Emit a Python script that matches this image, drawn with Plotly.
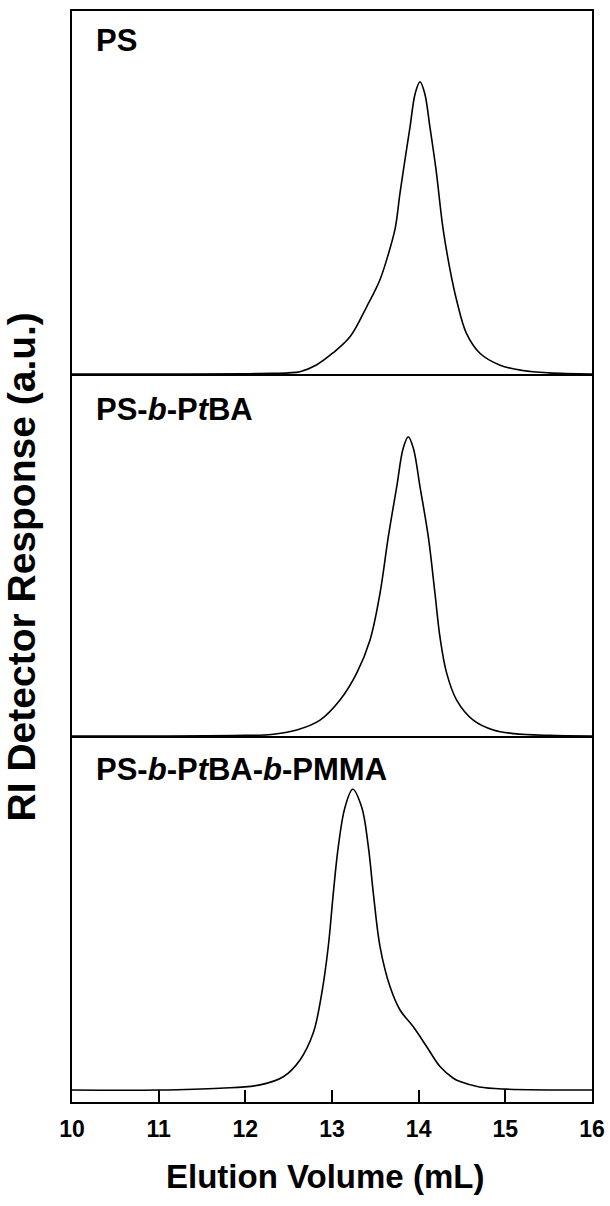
import plotly.graph_objects as go
from plotly.subplots import make_subplots

# GPC traces: elution volume (mL) vs normalised RI response
ps_x = [10.0, 11.0, 12.0, 12.3, 12.5, 12.63, 12.82, 13.01, 13.21, 13.40, 13.55, 13.65,
        13.73, 13.785, 13.90, 13.96, 14.015, 14.07, 14.13, 14.20, 14.28, 14.36, 14.44,
        14.55, 14.71, 14.94, 15.2, 15.5, 16.0]
ps_y = [0.0, 0.0, 0.001, 0.002, 0.004, 0.008, 0.031, 0.072, 0.128, 0.23, 0.32, 0.41,
        0.50, 0.62, 0.845, 0.96, 1.0, 0.96, 0.845, 0.70, 0.50, 0.36, 0.25,
        0.14, 0.07, 0.03, 0.012, 0.004, 0.0]

diblock_x = [10.0, 11.0, 12.0, 12.3, 12.593, 12.862, 13.092, 13.285, 13.438, 13.554,
             13.650, 13.747, 13.82, 13.88, 13.94, 14.015, 14.111, 14.188, 14.246,
             14.323, 14.438, 14.63, 14.861, 15.1, 15.5, 16.0]
diblock_y = [0.0, 0.0, 0.002, 0.005, 0.02, 0.053, 0.12, 0.21, 0.32, 0.477,
             0.666, 0.833, 0.96, 1.0, 0.96, 0.833, 0.666, 0.477, 0.33,
             0.21, 0.12, 0.053, 0.02, 0.008, 0.002, 0.0]

triblock_x = [10.0, 11.0, 11.708, 12.169, 12.438, 12.631, 12.784, 12.881, 12.957,
              13.015, 13.073, 13.15, 13.239, 13.343, 13.419, 13.477, 13.554, 13.669,
              13.785, 13.938, 14.093, 14.246, 14.40, 14.477, 14.7, 15.0, 16.0]
triblock_y = [0.0, 0.0, 0.006, 0.017, 0.044, 0.10, 0.19, 0.32, 0.477,
              0.654, 0.81, 0.94, 1.0, 0.94, 0.81, 0.654, 0.477, 0.344,
              0.266, 0.21, 0.144, 0.078, 0.039, 0.028, 0.01, 0.003, 0.0]

sample_labels = ["<b>PS</b>",
                 "<b>PS-<i>b</i>-P<i>t</i>BA</b>",
                 "<b>PS-<i>b</i>-P<i>t</i>BA-<i>b</i>-PMMA</b>"]
x_ticks = [10, 11, 12, 13, 14, 15, 16]

FONT = "Liberation Sans, Arial, sans-serif"

fig = make_subplots(rows=3, cols=1, shared_xaxes=True, vertical_spacing=0,
                    row_heights=[363, 362, 366])
fig.update_layout(template="none")

series = [(ps_x, ps_y), (diblock_x, diblock_y), (triblock_x, triblock_y)]
for i, (xs, ys) in enumerate(series, start=1):
    fig.add_trace(go.Scatter(x=xs, y=ys, mode="lines", line_shape="spline",
                             line=dict(color="black", width=1.6),
                             showlegend=False, hoverinfo="skip"), row=i, col=1)

y_ranges = [[0, 1.242], [0, 1.2095], [-0.0399, 1.177]]
for i, rng in enumerate(y_ranges, start=1):
    fig.update_yaxes(range=rng, showline=True, mirror=True, linecolor="black",
                     linewidth=1.5, showgrid=False, zeroline=False,
                     showticklabels=False, ticks="", row=i, col=1)

# top panel carries the upper frame edge; each panel's bottom line is the divider
for i in (1, 2, 3):
    fig.update_xaxes(range=[10, 16], showline=True, linecolor="black", linewidth=1.5,
                     showgrid=False, zeroline=False, mirror=(i == 1),
                     row=i, col=1)
for i in (1, 2):
    fig.update_xaxes(ticks="", showticklabels=False, row=i, col=1)
fig.update_xaxes(ticks="inside", ticklen=12, tickwidth=1.5, tickcolor="black",
                 tickmode="array", tickvals=x_ticks,
                 ticktext=[str(t) for t in x_ticks], showticklabels=True,
                 ticklabelstandoff=6,
                 tickfont=dict(family=FONT, size=23, color="black", weight="bold"),
                 row=3, col=1)

# panel labels
label_y = [1.0 - 30 / 363, 1.0 - 35 / 362, 1.0 - 33 / 366]
for i, (txt, yy) in enumerate(zip(sample_labels, label_y), start=1):
    yref = "y domain" if i == 1 else f"y{i} domain"
    xref = "x domain" if i == 1 else f"x{i} domain"
    fig.add_annotation(text=txt, xref=xref, yref=yref, x=22 / 520, y=yy,
                       xanchor="left", yanchor="middle", showarrow=False,
                       font=dict(family=FONT, size=31, color="black"))

fig.add_annotation(text="<b>Elution Volume (mL)</b>", xref="paper", yref="paper",
                   x=0.487, y=(1102 - 1176) / 1091, xanchor="center", yanchor="middle",
                   showarrow=False, font=dict(family=FONT, size=33, color="black"))
fig.add_annotation(text="<b>RI Detector Response (a.u.)</b>", xref="paper", yref="paper",
                   x=(21 - 72) / 520, y=0.49, xanchor="center", yanchor="middle",
                   textangle=-90, showarrow=False,
                   font=dict(family=FONT, size=39, color="black"))

fig.update_layout(width=610, height=1206, margin=dict(l=72, r=18, t=11, b=104),
                  paper_bgcolor="white", plot_bgcolor="white")

fig.write_html("out.html")
